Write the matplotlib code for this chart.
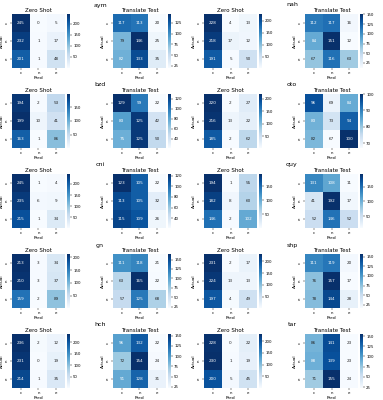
import numpy as np
import matplotlib
matplotlib.use("Agg")
import matplotlib.pyplot as plt
from matplotlib.ticker import MaxNLocator
import seaborn as sns


# ============================================================
# Data (confusion matrices, rows = actual, cols = predicted)
# ============================================================

LANGUAGES = ["aym", "nah", "bzd", "oto", "cni", "quy", "gn", "shp", "hch", "tar"]
CLASS_LABELS = ["c", "n", "e"]

ZERO_SHOT = {
    "aym": [[245, 0, 5], [232, 1, 17], [201, 1, 48]],
    "nah": [[228, 4, 13], [218, 17, 12], [191, 5, 50]],
    "bzd": [[194, 2, 53], [199, 10, 41], [163, 1, 86]],
    "oto": [[220, 2, 27], [216, 13, 22], [185, 2, 62]],
    "cni": [[245, 1, 4], [235, 6, 9], [215, 1, 34]],
    "quy": [[194, 1, 55], [182, 8, 60], [146, 2, 102]],
    "gn": [[213, 3, 34], [210, 3, 37], [159, 2, 89]],
    "shp": [[231, 2, 17], [224, 13, 13], [197, 4, 49]],
    "hch": [[236, 2, 12], [231, 0, 19], [214, 1, 35]],
    "tar": [[228, 0, 22], [230, 1, 19], [200, 5, 45]],
}

TRANSLATE_TEST = {
    "aym": [[117, 113, 20], [79, 146, 25], [82, 133, 35]],
    "nah": [[112, 117, 16], [84, 151, 12], [67, 116, 63]],
    "bzd": [[129, 99, 22], [83, 125, 42], [75, 125, 50]],
    "oto": [[96, 69, 84], [83, 73, 94], [82, 67, 100]],
    "cni": [[123, 105, 22], [113, 105, 32], [115, 109, 26]],
    "quy": [[131, 108, 11], [41, 192, 17], [52, 146, 52]],
    "gn": [[111, 118, 21], [63, 165, 22], [57, 125, 68]],
    "shp": [[111, 119, 20], [76, 157, 17], [78, 144, 28]],
    "hch": [[96, 132, 22], [72, 154, 24], [91, 128, 31]],
    "tar": [[86, 141, 23], [88, 139, 23], [71, 155, 24]],
}


# ============================================================
# Layout helpers (pixel based, figure is 383 x 400)
# ============================================================

FIG_W, FIG_H = 383, 400
HM_W, HM_H = 53, 54


def px_axes(fig, x, y, w, h):
    """Add axes given top-left pixel position and pixel size."""
    return fig.add_axes([x / FIG_W, 1 - (y + h) / FIG_H, w / FIG_W, h / FIG_H])


def draw_matrix(fig, data, title, x, y):
    data = np.array(data)
    ax = px_axes(fig, x, y, HM_W, HM_H)
    cax = px_axes(fig, x + 55, y, 3, HM_H)
    sns.heatmap(
        data,
        annot=True,
        fmt="d",
        cmap="Blues",
        xticklabels=CLASS_LABELS,
        yticklabels=CLASS_LABELS,
        ax=ax,
        cbar_ax=cax,
        annot_kws={"fontsize": 3},
    )
    ax.set_title(title, fontsize=4, pad=1.5)
    ax.set_xlabel("Pred", fontsize=3.2, labelpad=1)
    ax.set_ylabel("Actual", fontsize=3.2, labelpad=1)
    ax.tick_params(labelsize=2.8, length=1.2, width=0.3, pad=1)

    # colorbar ticks, leaving out one sitting right on the bottom edge
    vmin, vmax = data.min(), data.max()
    locator = MaxNLocator(nbins=6, steps=[1, 2, 2.5, 5, 10])
    ticks = [t for t in locator.tick_values(vmin, vmax) if vmin < t <= vmax]
    cax.set_yticks(ticks)
    cax.set_yticklabels([f"{t:g}" for t in ticks])
    cax.tick_params(labelsize=2.8, length=1.2, width=0.3, pad=1)
    return ax


# ============================================================
# Main
# ============================================================

def main():
    fig = plt.figure(figsize=(FIG_W / 100, FIG_H / 100), dpi=100)

    for k, lang in enumerate(LANGUAGES):
        row, col = divmod(k, 2)
        x0 = col * 192
        y0 = row * 80

        ax_zs = draw_matrix(fig, ZERO_SHOT[lang], "Zero Shot", x0 + 12, y0 + 14)
        draw_matrix(fig, TRANSLATE_TEST[lang], "Translate Test", x0 + 113, y0 + 14)

        # language name, placed in pixel terms relative to the zero-shot axes
        ax_zs.text((100 - 12) / HM_W, 1 + 9 / HM_H, lang,
                   transform=ax_zs.transAxes, fontsize=4.5,
                   ha="center", va="center", clip_on=False)

    fig.savefig("out.png", dpi=100)
    plt.close(fig)


if __name__ == "__main__":
    main()
